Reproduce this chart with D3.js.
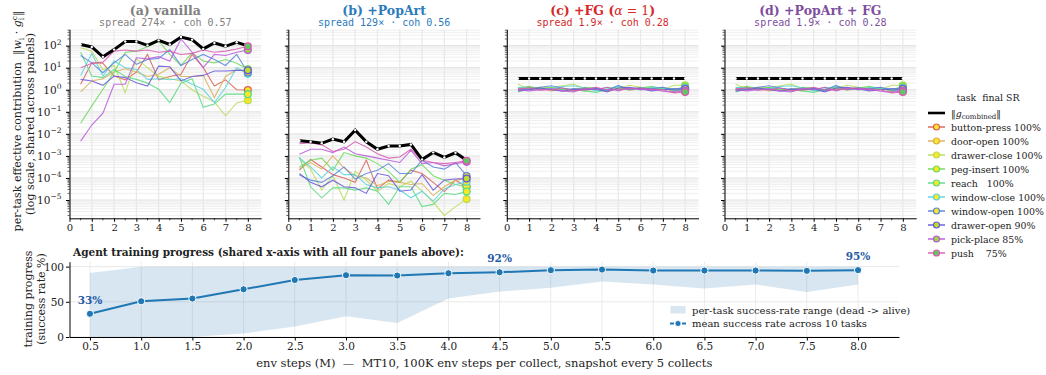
<!DOCTYPE html>
<html lang="en">
<head>
<meta charset="UTF-8">
<title>Per-task effective contribution</title>
<script src="https://d3js.org/d3.v7.min.js"></script>
<style>
  body { margin: 0; background: #fff; }
  svg text { font-family: "DejaVu Serif", serif; fill: #222; }
  .mono { font-family: "DejaVu Sans Mono", monospace; }
</style>
</head>
<body>
<div id="chart"></div>
<script>
// ---- data ----
const tasks = ["button-press", "door-open", "drawer-close", "peg-insert", "reach",
               "window-close", "window-open", "drawer-open", "pick-place", "push"];
const taskColors = ["#db5f57", "#dbae57", "#b9db57", "#69db57", "#57db80",
                    "#57d3db", "#5784db", "#6957db", "#b957db", "#db57b2"];
const finalSR = [100, 100, 100, 100, 100, 100, 100, 90, 85, 75];
const steps = [0.5, 1.0, 1.5, 2.0, 2.5, 3.0, 3.5, 4.0, 4.5, 5.0, 5.5, 6.0, 6.5, 7.0, 7.5, 8.0];

// log10 of ||w_i . g_i^c||, one row per task (same order as tasks)
const vanillaLog = [
  [0.25, 1.22, 1.2, 0.62, 0.45, 0.8, 1.6, 0.45, 0.6, 0.7, 1.6, 1.0, 0.17, 0.45, 0.0, -0.01],
  [-0.1, 0.4, 0.5, 0.8, 0.95, 0.8, 0.6, 0.7, 1.0, 0.6, 0.6, 0.65, -0.35, 0.6, 0.9, 0.83],
  [1.9, 1.75, 0.9, 1.1, -0.13, 1.4, 1.0, 0.6, 0.5, 0.4, 0.0, -0.3, -0.55, -1.18, -0.6, -0.48],
  [-1.52, -0.73, 0.02, 0.8, 1.7, 1.75, 1.95, 2.2, 1.6, 1.1, 1.67, 1.3, 1.22, 1.37, 1.2, 0.93],
  [1.7, 0.62, 0.55, 0.92, 0.6, 0.47, 0.3, 0.02, -0.58, 0.3, 0.5, -0.8, -0.65, -0.2, -0.2, -0.2],
  [0.65, 1.64, 0.62, 1.3, 1.0, 0.92, 0.47, 0.5, 0.45, 0.5, 0.25, 0.02, -0.58, 0.1, 1.0, 0.72],
  [1.55, 1.22, 0.77, 1.22, 1.6, 1.15, 1.37, 1.42, 1.82, 1.1, 1.37, 1.6, 1.37, 1.1, 1.6, 0.78],
  [0.47, 0.4, 0.2, 0.62, 0.55, 0.32, 0.17, 1.07, 1.04, 0.4, 0.6, 0.65, 0.85, 0.85, 0.88, 0.88],
  [-2.33, -1.6, -1.06, 0.25, 0.25, 1.45, 1.4, 1.5, 1.3, 2.3, 1.7, 1.0, 1.6, 1.55, 1.7, 1.8],
  [1.0, 1.2, 1.25, 1.75, 1.8, 1.75, 1.8, 1.7, 1.75, 1.6, 1.65, 1.8, 1.7, 1.75, 1.85, 1.97]
];
const vanillaTotal = [2.05, 1.94, 1.49, 1.82, 2.19, 2.19, 2.01, 2.24, 2.05, 2.39, 2.27, 1.85, 2.12, 1.97, 2.15, 1.99];

const popartLog = [
  [-3.64, -3.16, -3.5, -3.85, -4.0, -4.2, -3.19, -4.5, -4.1, -4.2, -3.65, -3.8, -4.2, -4.62, -4.1, -4.4],
  [-3.57, -3.3, -3.6, -3.0, -3.55, -3.9, -4.0, -4.35, -4.15, -4.2, -4.3, -4.25, -4.8, -4.4, -4.1, -4.03],
  [-3.1, -3.6, -4.55, -3.9, -5.0, -3.7, -4.1, -4.6, -4.25, -4.4, -4.15, -4.6, -5.1, -5.7, -5.3, -4.96],
  [-3.5, -3.2, -3.1, -3.65, -2.85, -3.0, -3.1, -3.35, -3.7, -4.2, -3.6, -3.4, -3.9, -4.1, -4.3, -4.4],
  [-3.05, -4.4, -4.9, -4.45, -4.45, -4.55, -4.45, -4.6, -5.2, -4.4, -4.4, -5.3, -5.2, -4.7, -4.75, -4.62],
  [-3.1, -3.5, -4.0, -3.5, -3.85, -3.85, -4.3, -4.45, -4.4, -4.55, -4.9, -4.6, -5.05, -4.5, -4.3, -4.17],
  [-3.87, -4.1, -4.2, -3.9, -3.5, -4.05, -3.8, -3.65, -3.35, -3.8, -3.8, -3.2, -3.5, -3.6, -3.3, -3.91],
  [-3.8, -4.2, -4.4, -4.1, -4.4, -4.45, -4.7, -3.8, -3.9, -4.6, -4.55, -3.85, -4.55, -4.1, -4.05, -4.03],
  [-2.93, -2.7, -2.7, -2.85, -2.6, -2.9, -3.0, -3.1, -3.2, -3.3, -2.75, -3.35, -3.3, -3.45, -3.35, -3.27],
  [-2.45, -2.4, -2.5, -2.8, -2.7, -2.35, -2.6, -2.9, -3.1, -3.05, -2.7, -3.2, -3.3, -3.35, -3.3, -3.22]
];
const popartTotal = [-2.31, -2.36, -2.43, -2.24, -2.36, -1.83, -2.36, -2.70, -2.55, -2.55, -2.48, -3.16, -2.84, -3.07, -2.86, -3.2];

const fgLog = [
  [0, 0.11, 0.04, 0, -0.02, 0.02, 0.08, 0, -0.05, 0.04, 0.08, 0, 0.04, 0.11, -0.1, 0.08],
  [0.04, 0, 0.08, -0.05, 0.04, 0, -0.05, 0.06, 0, 0.08, -0.02, 0.04, 0, 0.08, 0.04, 0],
  [0.26, 0, 0.11, 0.08, 0.18, 0.26, 0.04, 0, 0.11, 0.08, 0.2, 0.11, 0.08, 0, 0.2, 0.2],
  [0.08, 0.15, 0.04, 0.11, 0, -0.05, 0.11, 0.08, 0, 0.15, 0.04, 0.08, 0.15, 0.04, 0, 0.15],
  [-0.1, 0.04, 0, 0.08, 0, 0.04, -0.05, -0.12, 0, 0.04, 0, 0.11, 0, 0.08, -0.05, 0.04],
  [0.11, 0.08, 0, 0.04, 0.15, 0.18, 0.08, -0.05, 0.04, 0.15, 0.04, 0, 0.11, 0.08, 0.04, 0.08],
  [0, 0.04, 0.11, 0.18, 0.08, 0, 0.04, 0.08, -0.05, 0.2, 0, 0.08, 0.04, 0.11, -0.02, 0],
  [-0.05, 0, 0.08, 0, -0.07, 0.04, 0, 0.04, -0.1, 0.08, 0.11, 0.04, -0.05, 0, 0.04, 0.04],
  [0, -0.05, 0, 0.04, -0.05, -0.1, 0.08, 0, 0.11, -0.05, 0.08, 0, 0.04, -0.07, -0.12, -0.05],
  [0.04, 0.08, -0.02, 0, 0.08, -0.05, 0, 0.11, 0, 0, 0.04, 0.08, 0, 0, -0.15, -0.1]
];
const fgTotal = [0.51, 0.51, 0.51, 0.51, 0.51, 0.51, 0.51, 0.51, 0.51, 0.51, 0.51, 0.51, 0.51, 0.51, 0.51, 0.51];
// (d) reads the same as (c) in the figure
const popartFgLog = fgLog;
const popartFgTotal = fgTotal;

const panelTitles = ["(a) vanilla", "(b) +PopArt", "(c) +FG (α = 1)", "(d) +PopArt + FG"];
const panelSubs = ["spread 274× · coh 0.57", "spread 129× · coh 0.56",
                   "spread 1.9× · coh 0.28", "spread 1.9× · coh 0.28"];
const panelColors = ["#808080", "#2b7bba", "#d62728", "#7d4f9e"];

// bottom panel: success rate (%)
const meanSR = [33, 50.8, 54.6, 67.8, 81, 87.8, 87.3, 90.6, 92, 94.9, 95.8, 94.4, 94.4, 94.4, 94, 95];
const minSR = [0, 0, 0, 5, 15, 29.5, 20, 54.6, 64.5, 70, 79, 74.5, 69, 74.5, 64, 74.5];
const maxSR = [91, 100, 100, 100, 100, 100, 100, 100, 100, 100, 100, 100, 100, 100, 100, 100];
const annotIdx = [0, 8, 15];

// ---- setup ----
const width = 1046, height = 375;
const svg = d3.select("#chart").append("svg")
    .attr("width", width)
    .attr("height", height);
svg.append("rect").attr("width", width).attr("height", height).attr("fill", "#fff");

const panelLeft = [69.5, 288.3, 506.8, 724.5];
const panelW = 191.7;
const topY0 = 29.3, topY1 = 218.3;

const majorDecades = d3.range(-5, 3);
const minorVals = [];
for (let k = -6; k <= 2; k++) {
    for (let m = 2; m <= 9; m++) {
        const v = m * Math.pow(10, k);
        if (v > 1.48e-6 && v < 550) minorVals.push(v);
    }
}

function drawPanel(p, rows, total) {
    const L = panelLeft[p];
    const g = svg.append("g");
    const x = d3.scaleLinear().domain([0, 8.6]).range([L, L + panelW]);
    const y = d3.scaleLog().domain([1.48e-6, 550]).range([topY1, topY0]);

    // grid
    g.selectAll(".minor").data(minorVals).enter().append("line")
        .attr("x1", L).attr("x2", L + panelW)
        .attr("y1", d => y(d)).attr("y2", d => y(d))
        .attr("stroke", "#ebebeb").attr("stroke-width", 0.8);
    g.selectAll(".major").data(majorDecades).enter().append("line")
        .attr("x1", L).attr("x2", L + panelW)
        .attr("y1", d => y(Math.pow(10, d))).attr("y2", d => y(Math.pow(10, d)))
        .attr("stroke", "#e2e2e2").attr("stroke-width", 1);
    g.selectAll(".vgrid").data(d3.range(0, 9)).enter().append("line")
        .attr("x1", d => x(d)).attr("x2", d => x(d))
        .attr("y1", topY0).attr("y2", topY1)
        .attr("stroke", "#e8e8e8").attr("stroke-width", 1.2);

    // task lines
    const line = d3.line()
        .x((d, j) => x(steps[j]))
        .y(d => y(Math.pow(10, d)));
    g.selectAll(".task").data(rows).enter().append("path")
        .attr("d", line)
        .attr("fill", "none")
        .attr("stroke", (d, i) => taskColors[i])
        .attr("stroke-width", 1.1)
        .attr("stroke-opacity", 0.85);

    // combined norm
    g.append("path").datum(total)
        .attr("d", line)
        .attr("fill", "none")
        .attr("stroke", "#000")
        .attr("stroke-width", 3);
    g.selectAll(".tdot").data(total).enter().append("circle")
        .attr("cx", (d, j) => x(steps[j]))
        .attr("cy", d => y(Math.pow(10, d)))
        .attr("r", 1.2)
        .attr("fill", "#fff");

    // final markers
    g.selectAll(".end").data(rows).enter().append("circle")
        .attr("cx", x(steps[steps.length - 1]))
        .attr("cy", d => y(Math.pow(10, d[d.length - 1])))
        .attr("r", 3.4)
        .attr("fill", (d, i) => d3.interpolateViridis(finalSR[i] / 100))
        .attr("stroke", (d, i) => taskColors[i])
        .attr("stroke-width", 1.3);

    // axes
    const xAxis = g.append("g")
        .attr("transform", `translate(0,${topY1})`)
        .call(d3.axisBottom(x).tickValues(d3.range(0, 9)).tickSize(3.5).tickSizeOuter(0).tickPadding(2.5));
    xAxis.append("g").selectAll("line").data(d3.range(0.5, 8.5, 1)).enter().append("line")
        .attr("x1", d => x(d)).attr("x2", d => x(d)).attr("y1", 0).attr("y2", 2)
        .attr("stroke", "#000").attr("stroke-width", 0.7);
    xAxis.selectAll("text").style("font-size", "10px").style("font-family", "DejaVu Serif, serif");

    const yAxis = g.append("g")
        .attr("transform", `translate(${L},0)`)
        .call(d3.axisLeft(y).tickValues(majorDecades.map(k => Math.pow(10, k)))
              .tickSize(3.5).tickSizeOuter(0).tickFormat(""));
    yAxis.append("g").selectAll("line").data(minorVals).enter().append("line")
        .attr("x1", 0).attr("x2", -2).attr("y1", d => y(d)).attr("y2", d => y(d))
        .attr("stroke", "#000").attr("stroke-width", 0.6);
    [xAxis, yAxis].forEach(a => {
        a.select(".domain").attr("stroke", "#000").attr("stroke-width", 1);
        a.selectAll(".tick line").attr("stroke", "#000");
    });

    if (p === 0) {
        majorDecades.forEach(k => {
            const t = g.append("text")
                .attr("x", L - 8)
                .attr("y", y(Math.pow(10, k)) + 3.8)
                .attr("text-anchor", "end")
                .style("font-size", "10.5px");
            t.append("tspan").text("10");
            t.append("tspan").attr("dy", -4.5).style("font-size", "7.5px")
                .text(k < 0 ? "\u2212" + (-k) : String(k));
        });
    }

    // titles
    const cx = L + panelW / 2;
    const title = svg.append("text")
        .attr("x", cx).attr("y", 14.5)
        .attr("text-anchor", "middle")
        .style("font-size", "12.5px")
        .style("font-weight", "bold")
        .style("fill", panelColors[p]);
    if (panelTitles[p].includes("α")) {
        const parts = panelTitles[p].split("α");
        title.append("tspan").text(parts[0]);
        title.append("tspan").style("font-style", "italic").style("font-weight", "normal").text("α");
        title.append("tspan").style("font-weight", "normal").text(parts[1].replace(")", ""));
        title.append("tspan").text(")");
    } else {
        title.text(panelTitles[p]);
    }
    svg.append("text")
        .attr("class", "mono")
        .attr("x", cx).attr("y", 26)
        .attr("text-anchor", "middle")
        .style("font-size", "10px")
        .style("fill", panelColors[p])
        .text(panelSubs[p]);
}

drawPanel(0, vanillaLog, vanillaTotal);
drawPanel(1, popartLog, popartTotal);
drawPanel(2, fgLog, fgTotal);
drawPanel(3, popartFgLog, popartFgTotal);

// y-axis label for the top row
const yl1 = svg.append("text")
    .attr("transform", "translate(21,121) rotate(-90)")
    .attr("text-anchor", "middle")
    .attr("xml:space", "preserve")
    .style("font-size", "11px");
yl1.append("tspan").text("per-task effective contribution  \u2016");
yl1.append("tspan").style("font-style", "italic").text("w");
yl1.append("tspan").attr("dy", 2.5).style("font-size", "7.5px").text("i");
yl1.append("tspan").attr("dy", -2.5).text(" \u00b7 ");
yl1.append("tspan").style("font-style", "italic").text("g");
yl1.append("tspan").attr("dy", 2.5).style("font-size", "7.5px").text("i");
yl1.append("tspan").attr("dx", -2.5).attr("dy", -7).style("font-size", "7.5px").text("c");
yl1.append("tspan").attr("dy", 4.5).text("\u2016");
svg.append("text")
    .attr("transform", "translate(34,124) rotate(-90)")
    .attr("text-anchor", "middle")
    .style("font-size", "11px")
    .text("(log scale, shared across panels)");

// legend for tasks
const lg = svg.append("g");
lg.append("text")
    .attr("x", 988).attr("y", 101)
    .attr("text-anchor", "middle")
    .attr("xml:space", "preserve")
    .style("font-size", "9.4px")
    .text("task  final SR");
lg.append("line").attr("x1", 928).attr("x2", 945).attr("y1", 113).attr("y2", 113)
    .attr("stroke", "#000").attr("stroke-width", 2.6);
const gl = lg.append("text").attr("x", 951).attr("y", 116.5).style("font-size", "9.4px");
gl.append("tspan").text("\u2016");
gl.append("tspan").style("font-style", "italic").text("g");
gl.append("tspan").attr("dy", 2).style("font-size", "7px").text("combined");
gl.append("tspan").attr("dy", -2).text("\u2016");

tasks.forEach((t, i) => {
    const yy = 127 + 14 * i;
    lg.append("line").attr("x1", 928).attr("x2", 945).attr("y1", yy).attr("y2", yy)
        .attr("stroke", taskColors[i]).attr("stroke-width", 1.4);
    lg.append("circle").attr("cx", 936.5).attr("cy", yy).attr("r", 3)
        .attr("fill", d3.interpolateViridis(finalSR[i] / 100))
        .attr("stroke", taskColors[i]).attr("stroke-width", 1.2);
    const label = t.length < 6
        ? t.padEnd(7) + " " + finalSR[i] + "%"
        : t + " " + finalSR[i] + "%";
    lg.append("text").attr("x", 951).attr("y", yy + 3.5)
        .attr("xml:space", "preserve")
        .style("font-size", "9.4px")
        .text(label);
});

// ---- bottom: training progress ----
const bL = 69.5, bR = 899, bTop = 261.7, bBot = 337;
const bx = d3.scaleLinear().domain([0.3, 8.4]).range([bL, bR]);
const by = d3.scaleLinear().domain([0, 107]).range([bBot, bTop]);
const bg = svg.append("g");

bg.selectAll(".hg").data([0, 50, 100]).enter().append("line")
    .attr("x1", bL).attr("x2", bR).attr("y1", d => by(d)).attr("y2", d => by(d))
    .attr("stroke", "#e8e8e8").attr("stroke-width", 1);
bg.selectAll(".vg").data(steps).enter().append("line")
    .attr("x1", d => bx(d)).attr("x2", d => bx(d)).attr("y1", bTop).attr("y2", bBot)
    .attr("stroke", "#ebebeb").attr("stroke-width", 1);

const area = d3.area()
    .x((d, j) => bx(steps[j]))
    .y0((d, j) => by(minSR[j]))
    .y1((d, j) => by(maxSR[j]));
bg.append("path").datum(meanSR).attr("d", area)
    .attr("fill", "#1f77b4").attr("fill-opacity", 0.18);

bg.append("path").datum(meanSR)
    .attr("d", d3.line().x((d, j) => bx(steps[j])).y(d => by(d)))
    .attr("fill", "none").attr("stroke", "#1f77b4").attr("stroke-width", 2);
bg.selectAll(".pt").data(meanSR).enter().append("circle")
    .attr("cx", (d, j) => bx(steps[j])).attr("cy", d => by(d))
    .attr("r", 3.6).attr("fill", "#1f77b4").attr("stroke", "#fff").attr("stroke-width", 1);

annotIdx.forEach(j => {
    bg.append("text")
        .attr("x", bx(steps[j])).attr("y", by(meanSR[j]) - 10)
        .attr("text-anchor", "middle")
        .style("font-size", "10.5px").style("font-weight", "bold")
        .style("fill", "#1f5aa6")
        .text(Math.round(meanSR[j]) + "%");
});

const bxAxis = bg.append("g").attr("transform", `translate(0,${bBot})`)
    .call(d3.axisBottom(bx).tickValues(steps).tickFormat(d3.format(".1f"))
          .tickSize(3.5).tickSizeOuter(0).tickPadding(2.5));
const byAxis = bg.append("g").attr("transform", `translate(${bL},0)`)
    .call(d3.axisLeft(by).tickValues([0, 50, 100]).tickSize(3.5).tickSizeOuter(0).tickPadding(2));
[bxAxis, byAxis].forEach(a => {
    a.select(".domain").attr("stroke", "#000").attr("stroke-width", 1);
    a.selectAll(".tick line").attr("stroke", "#000");
    a.selectAll("text").style("font-size", "10.5px").style("font-family", "DejaVu Serif, serif");
});

svg.append("text")
    .attr("x", 73).attr("y", 256)
    .style("font-size", "10.5px").style("font-weight", "bold")
    .text("Agent training progress (shared x-axis with all four panels above):");

svg.append("text")
    .attr("transform", "translate(32,299) rotate(-90)")
    .attr("text-anchor", "middle").style("font-size", "11px")
    .text("training progress");
svg.append("text")
    .attr("transform", "translate(45,299) rotate(-90)")
    .attr("text-anchor", "middle").style("font-size", "11px")
    .text("(success rate %)");

svg.append("text")
    .attr("x", (bL + bR) / 2).attr("y", 367)
    .attr("text-anchor", "middle")
    .attr("xml:space", "preserve")
    .style("font-size", "11.5px")
    .text("env steps (M)  \u2014  MT10, 100K env steps per collect, snapshot every 5 collects");

// bottom legend
const bl = svg.append("g");
bl.append("rect").attr("x", 670.5).attr("y", 306).attr("width", 15).attr("height", 7.5)
    .attr("fill", "#1f77b4").attr("fill-opacity", 0.18);
bl.append("text").attr("x", 692).attr("y", 313.5).style("font-size", "10px")
    .text("per-task success-rate range (dead -> alive)");
bl.append("line").attr("x1", 670).attr("x2", 686).attr("y1", 323.5).attr("y2", 323.5)
    .attr("stroke", "#1f77b4").attr("stroke-width", 2).attr("stroke-dasharray", "4,2");
bl.append("circle").attr("cx", 678).attr("cy", 323.5).attr("r", 3)
    .attr("fill", "#1f77b4").attr("stroke", "#fff").attr("stroke-width", 0.8);
bl.append("text").attr("x", 692).attr("y", 327).style("font-size", "10px")
    .text("mean success rate across 10 tasks");
</script>
</body>
</html>
